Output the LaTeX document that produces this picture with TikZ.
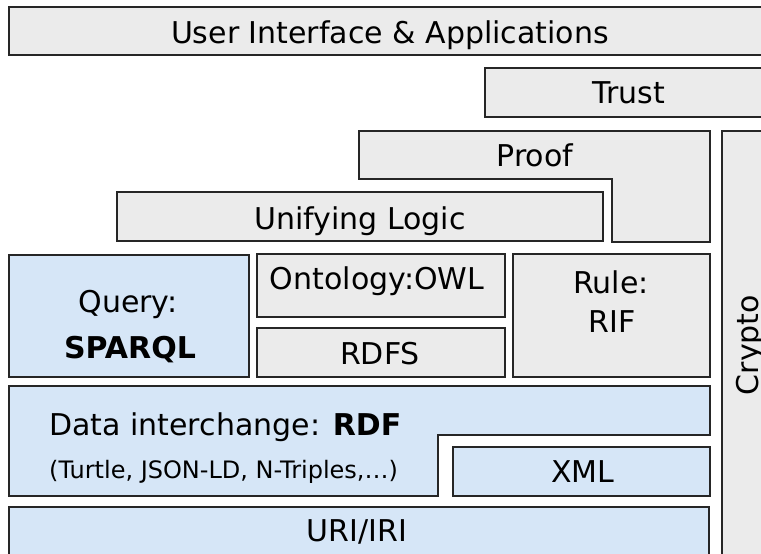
\documentclass[tikz,border=0pt]{standalone}
\usepackage{fontspec}
\setmainfont{DejaVu Sans}
\definecolor{stonegray}{HTML}{EBEBEB}
\definecolor{skyblue}{HTML}{D6E6F7}
\begin{document}
\begin{tikzpicture}[x=1pt,y=-1pt,
  stone/.style={fill=stonegray, draw=black!85, line width=1.3pt},
  sky/.style={fill=skyblue, draw=black!85, line width=1.3pt},
  lbl/.style={anchor=base, inner sep=0pt, font=\fontsize{30}{32}\selectfont},
  smalllbl/.style={lbl, font=\fontsize{24}{26}\selectfont},
]
\useasboundingbox (0,0) rectangle (761,554);
\fill[white] (0,0) rectangle (761,554);
\clip (0,0) rectangle (761,554);

% boxes
\draw[stone] (9,7) rectangle (775,55);
\draw[stone] (485,68) rectangle (775,117);
\draw[stone] (359,131) -- (710,131) -- (710,242) -- (612,242) -- (612,179) -- (359,179) -- cycle;
\draw[stone] (722,131) rectangle (775,570);
\draw[stone] (117,192) rectangle (603,241);
\draw[sky]   (9,255) rectangle (249,377);
\draw[stone] (257,254) rectangle (505,317);
\draw[stone] (257,328) rectangle (505,377);
\draw[stone] (513,254) rectangle (710,377);
\draw[sky]   (9,386) -- (710,386) -- (710,435) -- (438,435) -- (438,496) -- (9,496) -- cycle;
\draw[sky]   (453,447) rectangle (710,496);
\draw[sky]   (9,507) rectangle (709,570);

% labels
\node[lbl] (ui) at (390,43) {User Interface \& Applications};
\node[lbl] (trust) at (629,103) {Trust};
\node[lbl] (proof) at (535,166) {Proof};
\node[lbl] (logic) at (360,229) {Unifying Logic};
\node[lbl] (query) at (128,312) {Query:};
\node[lbl] (sparql) at (130,358) {\bfseries SPARQL};
\node[lbl] (owl) at (377,289) {Ontology:OWL};
\node[lbl] (rdfs) at (380,364) {RDFS};
\node[lbl] (rule) at (611,293) {Rule:};
\node[lbl] (rif) at (612,332) {RIF};
\node[lbl, rotate=90] (crypto) at (758,345) {Crypto};
\node[lbl, anchor=base west] (rdf) at (49,435) {Data interchange: \textbf{RDF}};
\node[smalllbl, anchor=base west] (ser) at (49,478) {(Turtle, JSON-LD, N-Triples,…)};
\node[lbl] (xml) at (583,482) {XML};
\node[lbl] (uri) at (357,541) {URI/IRI};
\end{tikzpicture}
\end{document}
